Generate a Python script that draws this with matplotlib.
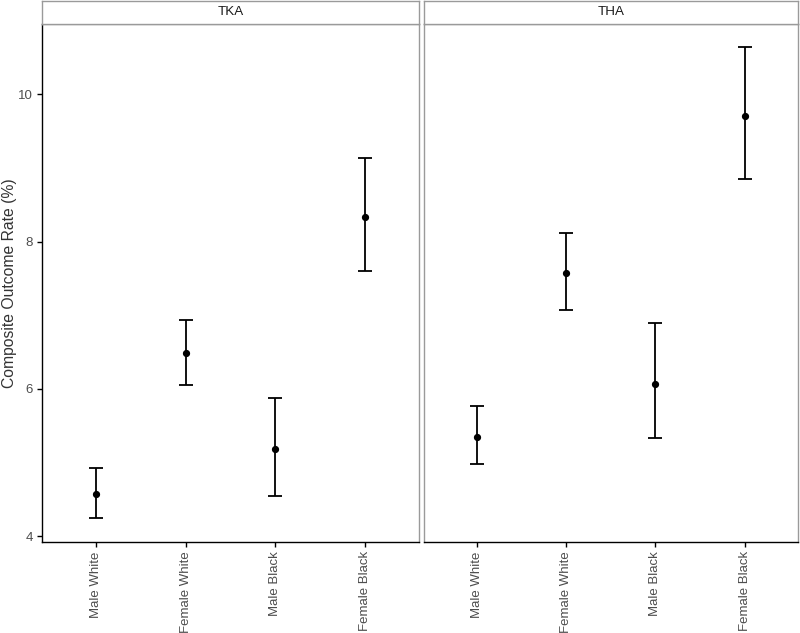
import matplotlib
matplotlib.use('Agg')

from matplotlib import pyplot as plt
import numpy as np

plt.rcParams['font.family'] = ['Liberation Sans', 'DejaVu Sans']

groups = ['Male White', 'Female White', 'Male Black', 'Female Black']
panels = ['TKA', 'THA']

# rate (%), lower and upper CI, per panel
rate = {'TKA': [4.57, 6.48, 5.18, 8.33],
        'THA': [5.35, 7.57, 6.06, 9.70]}
lower = {'TKA': [4.24, 6.05, 4.55, 7.60],
         'THA': [4.98, 7.07, 5.33, 8.85]}
upper = {'TKA': [4.92, 6.94, 5.88, 9.13],
         'THA': [5.77, 8.11, 6.89, 10.64]}

BORDER = '#9a9a9a'
TXT = '#4d4d4d'


def main():
    fig = plt.figure(figsize=(8, 6.33), dpi=100)
    W, H = 800., 633.
    bottom = 1 - 542 / H
    top = 1 - 23.5 / H
    lefts = [42 / W, 423.5 / W]
    rights = [419 / W, 798 / W]

    x = np.arange(1, len(groups) + 1)
    for i, name in enumerate(panels):
        ax = fig.add_axes([lefts[i], bottom, rights[i] - lefts[i], top - bottom])
        r = np.array(rate[name])
        lo = r - np.array(lower[name])
        hi = np.array(upper[name]) - r
        ax.errorbar(x, r, yerr=[lo, hi], fmt='o', color='black', ms=4.2,
                    elinewidth=1.3, capsize=4.8, capthick=1.3)
        ax.set_xlim(0.4, 4.6)
        ax.set_ylim(3.92, 10.96)
        ax.set_xticks(x)
        ax.set_xticklabels(groups, rotation=90, fontsize=9.5, color=TXT)
        ax.set_yticks([4, 6, 8, 10])
        ax.tick_params(axis='both', length=3.6, width=1.0, color='black',
                       labelcolor=TXT, pad=3)
        ax.tick_params(axis='y', labelsize=9.5)
        for s in ax.spines.values():
            s.set_color(BORDER)
            s.set_linewidth(1.0)
        ax.spines['bottom'].set_color('black')
        if i == 0:
            ax.spines['left'].set_color('black')
            ax.set_ylabel('Composite Outcome Rate (%)', fontsize=11.3,
                          color='#333333')
            ax.yaxis.set_label_coords(-25 / 377., 0.5)
        else:
            ax.tick_params(axis='y', left=False, labelleft=False)

        # facet strip
        sax = fig.add_axes([lefts[i], top, rights[i] - lefts[i], 23 / H])
        sax.set_xticks([])
        sax.set_yticks([])
        for s in sax.spines.values():
            s.set_color(BORDER)
            s.set_linewidth(1.0)
        sax.text(0.5, 0.5, name, ha='center', va='center', fontsize=9.6,
                 color='#1a1a1a', transform=sax.transAxes)

    fig.savefig('out.png', dpi=100)


if __name__ == '__main__':
    main()
